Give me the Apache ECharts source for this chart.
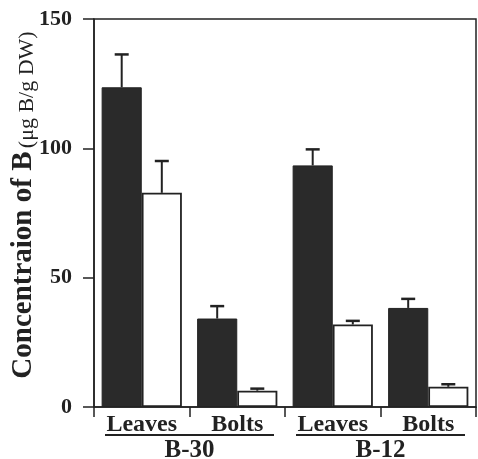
<!DOCTYPE html>
<html><head><meta charset="utf-8">
<script src="https://cdn.jsdelivr.net/npm/echarts@6/dist/echarts.min.js"></script>
<style>html,body{margin:0;padding:0;background:#fff}#c{width:478px;height:459px}</style>
</head><body><div id="c"></div>
<script>
const categories = ['Leaves', 'Bolts', 'Leaves', 'Bolts'];
const groups = ['B-30', 'B-12'];
const groupSpans = [[0, 1], [2, 3]];
const yMin = 0, yMax = 150, yStep = 50;
const blackValues = [123.6, 34.2, 93.4, 38.3];
const blackErrors = [12.7, 4.8, 6.2, 3.5];
const whiteValues = [82.8, 6.3, 31.9, 7.8];
const whiteErrors = [12.3, 0.8, 1.4, 1.0];

const GAP = 0.16;
const INK = '#222';
const SERIF = '"Liberation Serif","Times New Roman",serif';

function errData(vals, errs) { return vals.map((v, i) => [i, v, v + errs[i]]); }
function errRender(side) {
  return function (params, api) {
    const i = api.value(0);
    const c = api.coord([i, api.value(1)]);
    const t = api.coord([i, api.value(2)]);
    const bw = api.size([1, 0])[0] * (1 - GAP) / 2;
    const x = c[0] + side * bw / 2;
    return { type: 'group', children: [
      { type: 'line', shape: { x1: x, y1: c[1], x2: x, y2: t[1] }, style: { stroke: INK, lineWidth: 2 } },
      { type: 'line', shape: { x1: x - 7, y1: t[1], x2: x + 7, y2: t[1] }, style: { stroke: INK, lineWidth: 2.5 } }
    ] };
  };
}

const chart = echarts.init(document.getElementById('c'), null, { renderer: 'canvas' });
chart.setOption({
  animation: false,
  backgroundColor: '#fff',
  grid: { left: 94, right: 2, top: 19, bottom: 52, containLabel: false, outerBoundsMode: 'none', show: true, borderColor: INK, borderWidth: 1.5, backgroundColor: 'transparent' },
  xAxis: [
    {
      type: 'category', data: categories, position: 'bottom',
      axisLine: { lineStyle: { color: INK, width: 1.5 } },
      axisTick: { show: true, length: 10, lineStyle: { color: INK, width: 1.5 } },
      axisLabel: { color: INK, fontFamily: SERIF, fontWeight: 'bold', fontSize: 24, margin: 6 }
    },
    {
      type: 'category', data: groups, position: 'bottom', gridIndex: 0,
      axisLine: { show: false }, axisTick: { show: false },
      axisLabel: { color: INK, fontFamily: SERIF, fontWeight: 'bold', fontSize: 25, margin: 31 }
    }
  ],
  yAxis: {
    type: 'value', min: yMin, max: yMax, interval: yStep,
    splitLine: { show: false },
    axisLine: { show: true, lineStyle: { color: INK, width: 1.5 } },
    axisTick: { show: true, length: 11, lineStyle: { color: INK, width: 1.5 } },
    axisLabel: { color: INK, fontFamily: SERIF, fontWeight: 'bold', fontSize: 22, margin: 22 },
    name: '{a|Concentraion of B} {b|(μg B/g DW)}',
    nameLocation: 'middle', nameRotate: 90, nameGap: 56, nameMoveOverlap: false,
    nameTextStyle: {
      padding: [0, 0, 0, 16],
      rich: {
        a: { fontFamily: SERIF, fontWeight: 'bold', fontSize: 29, color: INK, verticalAlign: 'bottom' },
        b: { fontFamily: SERIF, fontWeight: 'normal', fontSize: 22, color: INK, verticalAlign: 'bottom' }
      }
    }
  },
  series: [
    {
      type: 'bar', data: blackValues, barGap: '0%', barCategoryGap: (GAP * 100) + '%',
      itemStyle: { color: '#2a2a2a', borderColor: INK, borderWidth: 1 }
    },
    {
      type: 'bar', data: whiteValues, barGap: '0%', barCategoryGap: (GAP * 100) + '%',
      itemStyle: { color: '#fff', borderColor: INK, borderWidth: 1.8 }
    },
    { type: 'custom', data: errData(blackValues, blackErrors), encode: { x: 0, y: [1, 2] }, renderItem: errRender(-1), z: 5 },
    { type: 'custom', data: errData(whiteValues, whiteErrors), encode: { x: 0, y: [1, 2] }, renderItem: errRender(1), z: 5 },
    {
      type: 'custom', data: groupSpans, encode: { x: [0, 1] }, clip: false, z: 5,
      renderItem: function (params, api) {
        const a = api.coord([api.value(0), 0]);
        const b = api.coord([api.value(1), 0]);
        const w = api.size([1, 0])[0];
        return { type: 'line', shape: { x1: a[0] - w / 2 + 11, y1: a[1] + 28, x2: b[0] + w / 2 - 11, y2: a[1] + 28 }, style: { stroke: INK, lineWidth: 2 } };
      }
    }
  ]
});
</script></body></html>
